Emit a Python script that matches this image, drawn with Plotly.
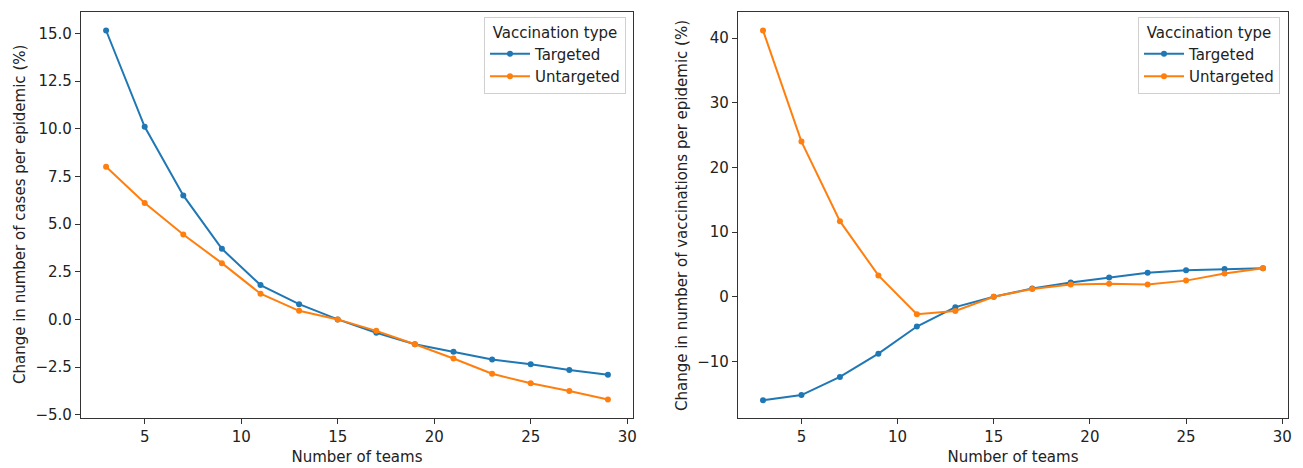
import plotly.graph_objects as go

teams = [3, 5, 7, 9, 11, 13, 15, 17, 19, 21, 23, 25, 27, 29]

cases_targeted = [15.15, 10.1, 6.5, 3.7, 1.8, 0.8, 0.0, -0.7, -1.3, -1.7, -2.1, -2.35, -2.65, -2.9]
cases_untargeted = [8.0, 6.1, 4.45, 2.95, 1.35, 0.45, 0.0, -0.6, -1.3, -2.05, -2.85, -3.35, -3.75, -4.2]

vacc_targeted = [-16.0, -15.2, -12.4, -8.8, -4.6, -1.6, 0.0, 1.3, 2.2, 3.0, 3.7, 4.1, 4.3, 4.4]
vacc_untargeted = [41.2, 24.0, 11.7, 3.3, -2.7, -2.2, 0.0, 1.2, 1.9, 2.0, 1.9, 2.5, 3.6, 4.4]

x_ticks = [5, 10, 15, 20, 25, 30]
left_yticks = [-5.0, -2.5, 0.0, 2.5, 5.0, 7.5, 10.0, 12.5, 15.0]
right_yticks = [-10, 0, 10, 20, 30, 40]

BLUE = "#1f77b4"
ORANGE = "#ff7f0e"
FONT = "DejaVu Sans"
TXT = "#222"
W, H = 1303, 468
L, R, T, B = 81, 15, 12, 50
PW = W - L - R
PH = H - T - B


def px(xp):
    return (xp - L) / PW


def py(yp):
    return (H - B - yp) / PH


fig = go.Figure()


def add(x, y, name, color, xa, ya, legend):
    fig.add_trace(go.Scatter(
        x=x, y=y, name=name, mode="lines+markers",
        line=dict(color=color, width=2),
        marker=dict(color=color, size=6),
        xaxis=xa, yaxis=ya, legend=legend,
    ))


add(teams, cases_targeted, "Targeted", BLUE, "x", "y", "legend")
add(teams, cases_untargeted, "Untargeted", ORANGE, "x", "y", "legend")
add(teams, vacc_targeted, "Targeted", BLUE, "x2", "y2", "legend2")
add(teams, vacc_untargeted, "Untargeted", ORANGE, "x2", "y2", "legend2")

axis_common = dict(
    showline=True, linecolor="#333", linewidth=1.2, mirror=True,
    ticks="outside", ticklen=5, tickcolor="#333", showgrid=False, zeroline=False,
    tickfont=dict(family=FONT, size=15, color=TXT), automargin=False,
)
xtitle = dict(text="Number of teams", standoff=6, font=dict(family=FONT, size=15, color=TXT))

legend_common = dict(
    title=dict(text="Vaccination type", side="top center", font=dict(family=FONT, size=15, color=TXT)),
    y=py(17), xanchor="right", yanchor="top", itemwidth=40,
    bgcolor="white", bordercolor="#d0d0d0", borderwidth=1,
    font=dict(family=FONT, size=15, color=TXT), tracegroupgap=0,
)

fig.update_layout(
    width=W, height=H,
    margin=dict(l=L, r=R, t=T, b=B),
    paper_bgcolor="white", plot_bgcolor="white",
    font=dict(family=FONT, size=15, color=TXT),
    xaxis=dict(domain=[0, px(633)], range=[1.7, 30.3], tickvals=x_ticks,
               title=xtitle, anchor="y", **axis_common),
    yaxis=dict(domain=[0, 1], range=[-5.17, 16.12], tickvals=left_yticks, tickformat=".1f",
               anchor="x", **axis_common),
    xaxis2=dict(domain=[px(738), 1], range=[1.7, 30.3], tickvals=x_ticks,
                title=xtitle, anchor="y2", **axis_common),
    yaxis2=dict(domain=[0, 1], range=[-18.75, 44.05], tickvals=right_yticks,
                anchor="x2", **axis_common),
    legend=dict(x=px(626), **legend_common),
    legend2=dict(x=px(1280), **legend_common),
    showlegend=True,
)

fig.add_annotation(text="Change in number of cases per epidemic (%)", textangle=-90,
                   x=px(20), y=py(215), xref="paper", yref="paper",
                   xanchor="center", yanchor="middle",
                   showarrow=False, font=dict(family=FONT, size=15, color=TXT))
fig.add_annotation(text="Change in number of vaccinations per epidemic (%)", textangle=-90,
                   x=px(682), y=py(216), xref="paper", yref="paper",
                   xanchor="center", yanchor="middle",
                   showarrow=False, font=dict(family=FONT, size=15, color=TXT))

fig.write_html("out.html")
